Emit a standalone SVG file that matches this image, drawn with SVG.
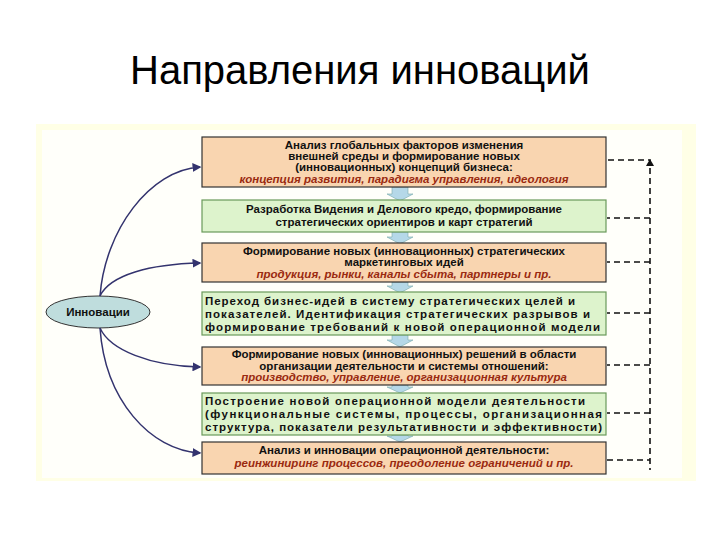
<svg xmlns="http://www.w3.org/2000/svg" width="720" height="540" viewBox="0 0 720 540">
<style>
.t{font-family:"Liberation Sans",Arial,sans-serif;font-weight:bold;font-size:11.5px;fill:#111;text-anchor:middle}
.l{text-anchor:start}
.r{fill:#9a2a10;font-style:italic}
.o{fill:#F9D5B0;stroke:#333;stroke-width:1.2}
.g{fill:#DDF3CC;stroke:#6a9a5a;stroke-width:1.2}
.c{fill:none;stroke:#33336e;stroke-width:1.5;marker-end:url(#a)}
.d{fill:none;stroke:#111;stroke-width:1.6;stroke-dasharray:6 4}
.ba{fill:#B5D8E8;stroke:#7aa;stroke-width:0.6}
</style>
<defs>
<marker id="a" markerWidth="6" markerHeight="6" refX="5" refY="3" orient="auto"><path d="M0,0L6,3L0,6z" fill="#33336e"/></marker>
</defs>
<rect width="720" height="540" fill="#fff"/>
<text x="360" y="84" font-family="Liberation Sans,Arial,sans-serif" font-size="40" text-anchor="middle" fill="#000">Направления инноваций</text>
<rect x="36" y="124" width="660" height="357" fill="#FFFFE6"/>
<rect x="42" y="130" width="640" height="348" fill="#FFFFFA"/>
<g id="arrows">
<path class="ba" d="M392,187h16v7h5l-13,7-13,-7h5z"/>
<path class="ba" d="M392,232h16v5h5l-13,7-13,-7h5z"/>
<path class="ba" d="M392,282h16v4h5l-13,7-13,-7h5z"/>
<path class="ba" d="M392,335h16v5h5l-13,7-13,-7h5z"/>
<path class="ba" d="M392,385h16v2h5l-13,6-13,-6h5z"/>
<path class="ba" d="M392,435h16v1h5l-13,6-13,-6h5z"/>
</g>
<g id="b1"><rect class="o" x="202" y="137" width="404" height="50"/>
<text class="t" x="404" y="149">Анализ глобальных факторов изменения</text>
<text class="t" x="404" y="160">внешней среды и формирование новых</text>
<text class="t" x="404" y="171">(инновационных) концепций бизнеса:</text>
<text class="t r" x="404" y="183">концепция развития, парадигма управления, идеология</text></g>
<g id="b2"><rect class="g" x="202" y="200" width="404" height="32"/>
<text class="t" x="404" y="213">Разработка Видения и Делового кредо, формирование</text>
<text class="t" x="404" y="226">стратегических ориентиров и карт стратегий</text></g>
<g id="b3"><rect class="o" x="202" y="243" width="404" height="39"/>
<text class="t" x="404" y="255">Формирование новых (инновационных) стратегических</text>
<text class="t" x="404" y="266">маркетинговых идей</text>
<text class="t r" x="404" y="278">продукция, рынки, каналы сбыта, партнеры и пр.</text></g>
<g id="b4"><rect class="g" x="202" y="292" width="404" height="43"/>
<text class="t l" x="205" y="305" textLength="370" lengthAdjust="spacing">Переход бизнес-идей в систему стратегических целей и</text>
<text class="t l" x="205" y="318" textLength="385" lengthAdjust="spacing">показателей. Идентификация стратегических разрывов и</text>
<text class="t l" x="205" y="331" textLength="395" lengthAdjust="spacing">формирование требований к новой операционной модели</text></g>
<g id="b5"><rect class="o" x="202" y="347" width="404" height="38"/>
<text class="t" x="404" y="358">Формирование новых (инновационных) решений в области</text>
<text class="t" x="404" y="370">организации деятельности и системы отношений:</text>
<text class="t r" x="404" y="381">производство, управление, организационная культура</text></g>
<g id="b6"><rect class="g" x="202" y="393" width="404" height="42"/>
<text class="t l" x="205" y="405" textLength="380" lengthAdjust="spacing">Построение новой операционной модели деятельности</text>
<text class="t l" x="205" y="418" textLength="397" lengthAdjust="spacing">(функциональные системы, процессы, организационная</text>
<text class="t l" x="205" y="431" textLength="397" lengthAdjust="spacing">структура, показатели результативности и эффективности)</text></g>
<g id="b7"><rect class="o" x="202" y="442" width="404" height="32"/>
<text class="t" x="404" y="454">Анализ и инновации операционной деятельности:</text>
<text class="t r" x="404" y="467">реинжиниринг процессов, преодоление ограничений и пр.</text></g>
<g id="innov"><ellipse cx="98" cy="312" rx="52" ry="16" fill="#BFDDDD" stroke="#333" stroke-width="1"/>
<text class="t" x="98" y="316">Инновации</text></g>
<g id="connectors">
<path class="c" d="M100,296C105,230 150,170 200,167"/>
<path class="c" d="M100,296C110,275 150,264 200,263"/>
<path class="c" d="M100,328C110,350 150,366 200,367"/>
<path class="c" d="M100,328C105,400 150,450 200,453"/>
<path class="d" d="M608,160H650V470"/>
<path d="M646,166L650,159L654,166z" fill="#111"/>
<path class="d" d="M650,218H607"/>
<path class="d" d="M650,262H607"/>
<path class="d" d="M650,313H607"/>
<path class="d" d="M650,365H607"/>
<path class="d" d="M650,413H607"/>
<path class="d" d="M607,460H650"/>
</g>
</svg>
